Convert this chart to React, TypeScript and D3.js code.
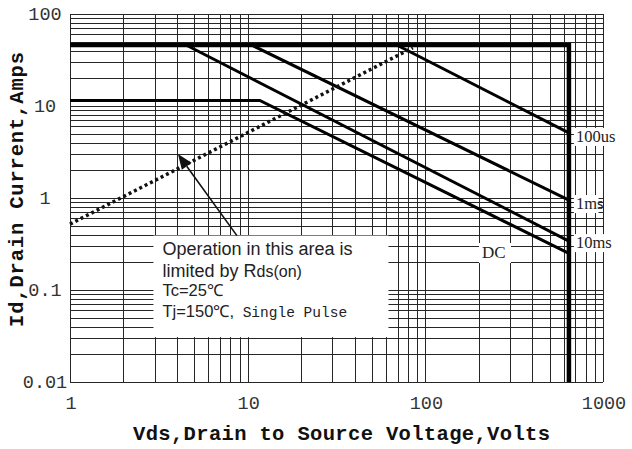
import React from "react";
import * as d3 from "d3";

// ---- data ----
const vdsTicks = [1, 10, 100, 1000];
const vdsTickLabels = ["1", "10", "100", "1000"];
const idTicks = [0.01, 0.1, 1, 10, 100];
const idTickLabels = ["0.01", "0.1", "1", "10", "100"];

// package / breakdown limit
const limitV = [1, 643, 643];
const limitI = [46, 46, 0.01];

// pulse curves
const us100V = [69, 643];
const us100I = [46, 5.1];
const ms1V = [10.5, 643];
const ms1I = [46, 0.95];
const ms10V = [4.5, 643];
const ms10I = [46, 0.34];
const dcV = [1, 11.7, 643];
const dcI = [11.5, 11.5, 0.25];

// Rds(on) limit (dotted)
const rdsV = [1, 85];
const rdsI = [0.52, 43];

// annotation arrow (data coords)
const arrowV = [8.7, 4.05];
const arrowI = [0.39, 3.0];

// annotation box (data coords)
const boxV = [2.95, 62];
const boxI = [0.4, 0.03];

const curveLabels = ["100us", "1ms", "10ms"];
const noteLines = [
  "Operation in this area is",
  "limited by Rds(on)",
  "Tc=25℃",
  "Tj=150℃, Single Pulse",
];

const W = 632;
const H = 449;
const x = d3.scaleLog().domain([1, 1000]).range([70, 603]);
const y = d3.scaleLog().domain([0.01, 100]).range([382, 14]);

function gridValues(lo: number, hi: number): number[] {
  const out: number[] = [];
  for (let d = Math.log10(lo); d < Math.log10(hi); d++) {
    for (let k = 1; k <= 9; k++) out.push(k * Math.pow(10, d));
  }
  out.push(hi);
  return out;
}

const line = d3
  .line<[number, number]>()
  .x((d) => x(d[0]))
  .y((d) => y(d[1]));

function pts(vs: number[], is: number[]): [number, number][] {
  return vs.map((v, i) => [v, is[i]]);
}

const px = (v: number) => Math.round(v) + 0.5;

export default function App() {
  const vGrid = gridValues(1, 1000);
  const hGrid = gridValues(0.01, 100);
  const gridColor = "#262626";

  const bx0 = x(boxV[0]);
  const bx1 = x(boxV[1]);
  const by0 = y(boxI[0]) + 1;
  const by1 = y(boxI[1]) - 1;

  // arrow
  const ax0 = x(arrowV[0]);
  const ay0 = y(arrowI[0]);
  const ax1 = x(arrowV[1]);
  const ay1 = y(arrowI[1]);
  const ang = Math.atan2(ay1 - ay0, ax1 - ax0);
  const hl = 15;
  const hw = 6;
  const bxh = ax1 - hl * Math.cos(ang);
  const byh = ay1 - hl * Math.sin(ang);
  const head = [
    [ax1, ay1],
    [bxh + hw * Math.sin(ang), byh - hw * Math.cos(ang)],
    [bxh - hw * Math.sin(ang), byh + hw * Math.cos(ang)],
  ]
    .map((p) => p.join(","))
    .join(" ");

  const ends = [
    { name: curveLabels[0], v: us100V[1], i: us100I[1], dy: 9 },
    { name: curveLabels[1], v: ms1V[1], i: ms1I[1], dy: 9 },
    { name: curveLabels[2], v: ms10V[1], i: ms10I[1], dy: 7 },
  ];

  const dcLabelX = 482;
  const dcLabelY = 258;

  return (
    <svg
      width={W}
      height={H}
      style={{ position: "absolute", left: 0, top: 0, background: "#fff" }}
    >
      <rect x={0} y={0} width={W} height={H} fill="#fff" />
      {/* grid */}
      <g stroke={gridColor} strokeWidth={1} shapeRendering="crispEdges">
        {vGrid.map((v, i) => (
          <line key={"v" + i} x1={px(x(v))} x2={px(x(v))} y1={y(100)} y2={y(0.01)} />
        ))}
        {hGrid.map((v, i) => (
          <line key={"h" + i} x1={x(1)} x2={x(1000)} y1={px(y(v))} y2={px(y(v))} />
        ))}
      </g>

      {/* annotation box */}
      <rect x={bx0} y={by0} width={bx1 - bx0} height={by1 - by0} fill="#fff" />

      {/* curves */}
      <g fill="none" stroke="#000" strokeLinejoin="miter">
        <path d={line(pts(us100V, us100I)) || ""} strokeWidth={3} />
        <path d={line(pts(ms1V, ms1I)) || ""} strokeWidth={3} />
        <path d={line(pts(ms10V, ms10I)) || ""} strokeWidth={3} />
        <path d={line(pts(dcV, dcI)) || ""} strokeWidth={3} />
        <path d={line(pts(limitV, limitI)) || ""} strokeWidth={4.5} />
        <path
          d={line(pts(rdsV, rdsI)) || ""}
          strokeWidth={3.5}
          strokeDasharray="3,3"
          stroke="#111"
        />
      </g>

      {/* arrow */}
      <line x1={ax0} y1={ay0} x2={bxh} y2={byh} stroke="#111" strokeWidth={1.6} />
      <polygon points={head} fill="#111" />

      {/* curve labels */}
      {ends.map((e) => {
        const lx = x(e.v) + 6;
        const ly = y(e.i) + e.dy;
        return (
          <g key={e.name}>
            <rect x={lx - 1} y={ly - 14} width={e.name.length * 8.2} height={18} fill="#fff" />
            <text
              x={lx + 1}
              y={ly}
              fontFamily="'Liberation Serif', 'Times New Roman', serif"
              fontSize={16.5}
              fill="#222"
            >
              {e.name}
            </text>
          </g>
        );
      })}
      <rect x={dcLabelX - 3} y={dcLabelY - 15} width={32} height={20} fill="#fff" />
      <text
        x={dcLabelX}
        y={dcLabelY}
        fontFamily="'Liberation Serif', 'Times New Roman', serif"
        fontSize={17}
        fill="#222"
      >
        DC
      </text>

      {/* note text */}
      <g fontFamily="'Liberation Sans', Arial, sans-serif" fill="#222">
        <text x={bx0 + 9} y={255} fontSize={18}>
          {noteLines[0]}
        </text>
        <text x={bx0 + 9} y={277} fontSize={18}>
          limited by R<tspan fontSize={16}>ds(on)</tspan>
        </text>
        <text x={bx0 + 9} y={296} fontSize={16.5}>
          {noteLines[2]}
        </text>
        <text x={bx0 + 9} y={317} fontSize={16.5}>
          Tj=150℃,
          <tspan fontFamily="'Liberation Mono', 'Courier New', monospace" fontSize={14.5}>
            {" Single Pulse"}
          </tspan>
        </text>
      </g>

      {/* tick labels */}
      <g fontFamily="'Liberation Mono', 'Courier New', monospace" fontSize={18.5} fill="#333">
        {vdsTicks.map((v, i) => (
          <text key={"xt" + i} x={x(v) + 1} y={409} textAnchor="middle">
            {vdsTickLabels[i]}
          </text>
        ))}
        {idTicks.map((v, i) => (
          <text key={"yt" + i} x={45} y={y(v) + 6} textAnchor="middle">
            {idTickLabels[i]}
          </text>
        ))}
      </g>

      {/* axis titles */}
      <text
        x={341.5}
        y={440}
        textAnchor="middle"
        fontFamily="'Liberation Mono', 'Courier New', monospace"
        fontWeight="bold"
        fontSize={20.5}
        fill="#111"
        textLength={417}
        lengthAdjust="spacing"
      >
        Vds,Drain to Source Voltage,Volts
      </text>
      <text
        transform="translate(23,189.5) rotate(-90)"
        textAnchor="middle"
        fontFamily="'Liberation Mono', 'Courier New', monospace"
        fontWeight="bold"
        fontSize={20.5}
        fill="#111"
        textLength={275}
        lengthAdjust="spacing"
      >
        Id,Drain Current,Amps
      </text>
    </svg>
  );
}
